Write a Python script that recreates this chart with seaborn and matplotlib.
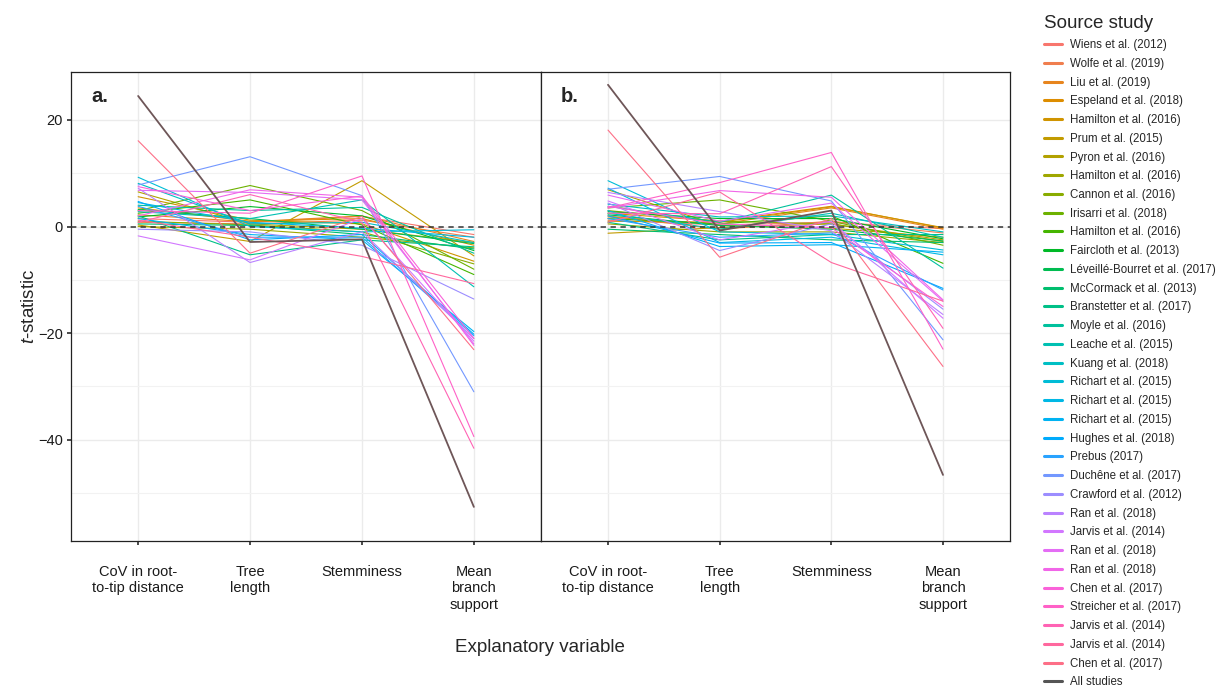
import numpy as np
import pandas as pd
import matplotlib
matplotlib.use("Agg")
import matplotlib.pyplot as plt
from matplotlib.lines import Line2D
import seaborn as sns

# ---------------- data ----------------
variables = ["CoV in root-\nto-tip distance", "Tree\nlength", "Stemminess", "Mean\nbranch\nsupport"]

studies = [
    "Wiens et al. (2012)", "Wolfe et al. (2019)", "Liu et al. (2019)", "Espeland et al. (2018)",
    "Hamilton et al. (2016)", "Prum et al. (2015)", "Pyron et al. (2016)", "Hamilton et al. (2016)",
    "Cannon et al. (2016)", "Irisarri et al. (2018)", "Hamilton et al. (2016)", "Faircloth et al. (2013)",
    "Léveillé-Bourret et al. (2017)", "McCormack et al. (2013)", "Branstetter et al. (2017)",
    "Moyle et al. (2016)", "Leache et al. (2015)", "Kuang et al. (2018)", "Richart et al. (2015)",
    "Richart et al. (2015)", "Richart et al. (2015)", "Hughes et al. (2018)", "Prebus (2017)",
    "Duchêne et al. (2017)", "Crawford et al. (2012)", "Ran et al. (2018)", "Jarvis et al. (2014)",
    "Ran et al. (2018)", "Ran et al. (2018)", "Chen et al. (2017)", "Streicher et al. (2017)",
    "Jarvis et al. (2014)", "Jarvis et al. (2014)", "Chen et al. (2017)",
]
all_label = "All studies"

# t-statistics per study: [CoV, Tree length, Stemminess, Mean branch support]
panel_a = [
    [1.5, 0.8, 1.9, -1.5], [0.8, 0.5, 1.2, -2.0], [2.2, 0.9, 2.0, -2.8], [3.5, 1.0, 1.5, -3.5],
    [5.6, 1.2, 0.5, -6.5], [0.3, -2.8, 8.6, -5.5], [6.5, 0.5, -0.5, -3.0], [0.0, -0.5, -2.0, -4.0],
    [1.0, 0.3, -1.0, -7.0], [3.0, 7.7, 3.0, -8.0], [2.5, 5.0, 0.3, -9.0], [1.8, 3.75, 2.0, -4.5],
    [3.2, 1.5, -0.5, -3.2], [0.5, 0.2, -1.5, -4.2], [2.0, -5.3, -2.5, -3.8], [4.0, 3.0, 3.6, -5.0],
    [2.8, 1.5, 5.0, -11.3], [8.1, 0.5, 0.8, -3.0], [9.25, 0.0, -1.0, -0.6], [4.5, 0.8, -0.3, -2.0],
    [1.5, -1.5, -2.5, -19.7], [4.7, -2.5, -1.5, -20.2], [3.8, -2.0, -2.0, -20.5], [7.8, 13.1, 5.8, -31.0],
    [-0.5, -1.0, -3.5, -13.6], [7.2, -6.75, -1.0, -21.0], [-1.75, -6.25, 1.5, -21.5], [6.8, 6.4, 5.0, -22.0],
    [2.0, 6.9, 5.5, -22.3], [7.5, 3.0, 5.75, -21.0], [3.0, 2.5, 9.5, -39.4], [0.8, 6.0, 0.8, -41.6],
    [1.2, -2.0, -5.6, -10.7], [16.1, -5.0, 1.9, -23.1],
]
panel_b = [
    [1.2, 0.3, 0.8, -0.4], [2.0, -0.5, 1.0, -1.2], [1.8, 0.5, 3.5, -0.5], [2.5, 1.0, 3.8, -0.3],
    [1.0, 0.8, 3.7, -0.2], [-1.25, -0.2, 0.5, -2.5], [6.9, 0.2, -0.3, -2.0], [0.5, -1.0, -1.0, -3.0],
    [3.0, 1.0, 0.5, -2.8], [3.5, 5.0, 1.0, -3.5], [1.5, 0.5, 2.0, -6.9], [2.8, 1.5, 1.5, -2.3],
    [2.2, 0.2, -0.5, -2.7], [-0.5, -1.5, -2.5, -3.0], [0.8, -2.5, -1.5, -1.5], [3.8, 0.8, 5.9, -7.8],
    [2.5, -0.5, 2.5, -2.0], [4.2, 1.8, 2.0, -1.0], [8.6, -1.0, -1.5, -4.4], [7.2, -3.0, -2.0, -5.3],
    [3.0, -3.75, -3.4, -4.8], [2.0, -3.1, -3.0, -11.6], [1.5, -2.0, -1.2, -11.9], [7.0, 9.4, 4.8, -21.25],
    [4.4, -4.5, 0.5, -15.5], [6.4, 2.8, -0.8, -16.5], [4.8, -2.5, 1.0, -17.2], [5.9, 1.0, 4.4, -14.0],
    [3.5, 6.75, 5.5, -13.75], [3.8, 0.5, -0.2, -15.0], [3.5, 8.25, 13.9, -23.0], [2.5, 2.4, 11.25, -19.1],
    [0.8, 6.5, -6.75, -14.0], [18.1, -5.75, 1.5, -26.25],
]
all_a = [24.5, -2.9, -2.4, -52.6]
all_b = [26.6, -0.75, 3.0, -46.6]

yticks = [20, 0, -20, -40]
panel_tags = ["a.", "b."]


# ---------------- colours (ggplot2 hue palette, HCL c=100 l=65) ----------------
def hcl_to_hex(h, c=100.0, l=65.0):
    Xn, Yn, Zn = 95.047, 100.0, 108.883
    un = 4 * Xn / (Xn + 15 * Yn + 3 * Zn)
    vn = 9 * Yn / (Xn + 15 * Yn + 3 * Zn)
    hr = np.deg2rad(h)
    u, v = c * np.cos(hr), c * np.sin(hr)
    Y = Yn * ((l + 16) / 116) ** 3
    up = u / (13 * l) + un
    vp = v / (13 * l) + vn
    X = Y * 9 * up / (4 * vp)
    Z = Y * (12 - 3 * up - 20 * vp) / (4 * vp)
    X, Y, Z = X / 100, Y / 100, Z / 100
    r = 3.2404542 * X - 1.5371385 * Y - 0.4985314 * Z
    g = -0.9692660 * X + 1.8760108 * Y + 0.0415560 * Z
    b = 0.0556434 * X - 0.2040259 * Y + 1.0572252 * Z
    out = []
    for ch in (r, g, b):
        ch = 1.055 * ch ** (1 / 2.4) - 0.055 if ch > 0.0031308 else 12.92 * ch
        out.append(min(max(ch, 0), 1))
    return matplotlib.colors.to_hex(out)


n = len(studies)
hues = np.linspace(15, 375 - 360 / n, n)
colors = [hcl_to_hex(h) for h in hues]
all_color = "#6E5658"

ids = [f"s{i:02d}" for i in range(n)]


def long_frame(values, allvals):
    rows = []
    for sid, vals in zip(ids, values):
        for j, v in enumerate(vals):
            rows.append({"sid": sid, "x": j, "t": v})
    for j, v in enumerate(allvals):
        rows.append({"sid": "all", "x": j, "t": v})
    return pd.DataFrame(rows)


dfs = [long_frame(panel_a, all_a), long_frame(panel_b, all_b)]

# ---------------- plot ----------------
sns.set_theme(style="white")
plt.rcParams["font.family"] = ["Liberation Sans", "DejaVu Sans"]
plt.rcParams["mathtext.fontset"] = "custom"
plt.rcParams["mathtext.it"] = "Liberation Sans:italic"
plt.rcParams["mathtext.rm"] = "Liberation Sans"

W, H = 1225, 687
fig = plt.figure(figsize=(W / 100, H / 100), dpi=100)
left_px, mid_px, right_px = 71, 541, 1010
top_px, bot_px = 72, 541
axes = []
for k, (x0, x1) in enumerate([(left_px, mid_px), (mid_px, right_px)]):
    ax = fig.add_axes([x0 / W, 1 - bot_px / H, (x1 - x0) / W, (bot_px - top_px) / H])
    axes.append(ax)

palette = dict(zip(ids, colors))
for k, ax in enumerate(axes):
    df = dfs[k]
    ax.set_xlim(-0.6, len(variables) - 0.4)
    ax.set_ylim(-59, 29)
    ax.set_yticks(yticks)
    ax.set_yticks([10, -10, -30, -50], minor=True)
    ax.grid(which="major", axis="both", color="#EBEBEB", lw=1.0, zorder=0)
    ax.grid(which="minor", axis="y", color="#F2F2F2", lw=0.8, zorder=0)
    ax.set_axisbelow(True)
    sub = df[df.sid != "all"]
    sns.lineplot(data=sub, x="x", y="t", hue="sid", hue_order=ids, palette=palette,
                 estimator=None, sort=False, legend=False, lw=0.8, ax=ax, zorder=2)
    ax.axhline(0, color="#333333", lw=1.1, ls=(0, (3.5, 3)), zorder=3)
    sns.lineplot(data=df[df.sid == "all"], x="x", y="t", color=all_color, lw=1.3,
                 estimator=None, sort=False, legend=False, ax=ax, zorder=4)
    ax.set_xticks(range(len(variables)))
    ax.set_xticklabels(variables, fontsize=10.5, linespacing=1.25, color="#1a1a1a")
    ax.tick_params(axis="x", which="major", length=3, pad=14, color="#333333", bottom=True)
    ax.set_xlabel("")
    ax.set_ylabel("")
    for sp in ax.spines.values():
        sp.set_color("#222222")
        sp.set_linewidth(0.9)
    ax.text(0.062, 0.948, panel_tags[k], transform=ax.transAxes, fontsize=14.5,
            fontweight="bold", ha="center", va="center")
    if k == 0:
        ax.set_yticklabels([f"{v:d}".replace("-", "\u2212") for v in yticks], fontsize=10.5,
                           color="#1a1a1a")
        ax.tick_params(axis="y", which="major", length=3, pad=3, left=True, color="#333333")
        ax.tick_params(axis="y", which="minor", length=0)
    else:
        ax.tick_params(axis="y", which="both", left=False, labelleft=False)

fig.text(540 / W, 1 - 648 / H, "Explanatory variable", ha="center", va="center", fontsize=13.5)
fig.text(29 / W, 1 - 306 / H, r"$t$-statistic", ha="center", va="center",
         rotation=90, fontsize=13.5)

handles = [Line2D([0], [0], color=c, lw=2.2) for c in colors]
handles.append(Line2D([0], [0], color="#555555", lw=2.2))
labels = studies + [all_label]
leg = fig.legend(handles, labels, loc="upper left", bbox_to_anchor=(1042 / W, 1 - 13 / H),
                 frameon=False, title="Source study", fontsize=8.3, title_fontsize=13.5,
                 handlelength=1.5, handletextpad=0.7, labelspacing=0.585, borderaxespad=0,
                 borderpad=0.2)
leg._legend_box.align = "left"

fig.savefig("out.png", dpi=100)
